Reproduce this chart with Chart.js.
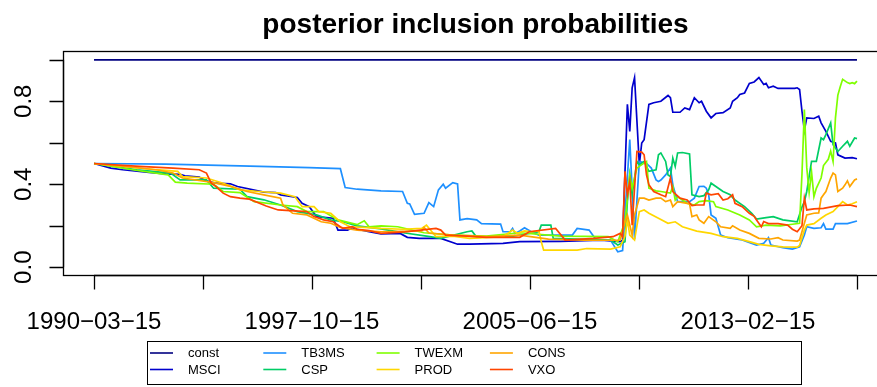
<!DOCTYPE html>
<html>
<head>
<meta charset="utf-8">
<script src="https://cdn.jsdelivr.net/npm/chart.js@4/dist/chart.umd.min.js"></script>
<style>
  html, body { margin: 0; padding: 0; background: #ffffff; overflow: hidden; }
  #wrap { width: 900px; height: 387px; position: relative; }
</style>
</head>
<body>
<div id="wrap"><canvas id="pip" width="900" height="387"></canvas></div>
<script>
// Posterior inclusion probabilities, monthly observations indexed from 1990-03 (month 0) to month 319.
const LAST_MONTH = 319;

// x axis ticks (month index) and their labels
const xTickMonths = [0, 45.57, 91.14, 136.71, 182.29, 227.86, 273.43, 319];
const xTickLabels = ['1990\u221203\u221215', '', '1997\u221210\u221215', '', '2005\u221206\u221215', '', '2013\u221202\u221215', ''];

// y axis ticks and labels
const yTickValues = [0, 0.2, 0.4, 0.6, 0.8, 1.0];
const yTickLabels = ['0.0', '', '0.4', '', '0.8', ''];

const seriesNames = ['const', 'MSCI', 'TB3MS', 'CSP', 'TWEXM', 'PROD', 'CONS', 'VXO'];
const seriesColors = ['#000080', '#0000CD', '#1E90FF', '#00CD66', '#7FFF00', '#FFD700', '#FFA500', '#FF4500'];

// [month, probability]
const constPip = [[0, 1], [319, 1]];

const msciPip = [[0,.5],[7,.478],[12,.47],[23,.457],[30,.45],[36,.448],[38,.441],[44,.434],[47,.416],[51,.405],[57,.402],[60,.389],
  [71,.362],[76,.36],[78,.349],[85,.336],[87,.308],[90,.292],[93,.244],[100,.236],[102,.179],[106,.179],[108,.19],[110,.183],
  [115,.171],[120,.16],[128,.163],[131,.144],[136,.139],[145,.139],[152,.111],[157,.111],[171,.115],[178,.123],[195,.125],
  [212,.131],[220,.123],[221,.13],[223,.785],[224,.655],[225,.865],[226,.914],[228,.494],[229,.599],[230,.615],[232,.785],
  [234,.793],[237,.80],[240,.828],[241,.817],[242,.747],[245,.747],[247,.768],[249,.76],[251,.817],[253,.793],[254,.80],
  [256,.752],[258,.72],[260,.741],[263,.745],[266,.768],[267,.80],[269,.817],[270,.833],[272,.84],[274,.886],[276,.893],
  [278,.914],[280,.881],[281,.886],[282,.865],[284,.873],[286,.862],[293,.862],[294,.865],[295,.857],[296,.752],[297,.66],
  [298,.72],[301,.717],[303,.728],[304,.696],[306,.655],[308,.607],[310,.599],[311,.542],[314,.526],[317,.528],[319,.523]];

const tb3msPip = [[0,.5],[30,.497],[61,.489],[90,.48],[103,.475],[105,.384],[110,.376],[120,.368],[129,.365],[131,.308],
  [132,.305],[134,.255],[138,.26],[140,.311],[142,.292],[144,.373],[146,.40],[147,.381],[150,.408],[152,.402],[153,.228],
  [156,.234],[160,.228],[162,.21],[170,.208],[171,.171],[174,.171],[175,.187],[176,.163],[178,.175],[180,.19],[183,.17],
  [186,.155],[200,.155],[202,.187],[207,.179],[210,.131],[216,.13],[219,.074],[221,.08],[224,.615],[226,.135],[228,.51],
  [231,.50],[233,.478],[235,.421],[236,.413],[237,.42],[239,.445],[241,.478],[242,.397],[244,.316],[249,.316],[251,.333],
  [253,.389],[255,.39],[256,.381],[257,.349],[258,.252],[260,.236],[262,.155],[265,.142],[271,.131],[277,.107],[280,.115],
  [282,.142],[283,.107],[288,.094],[292,.087],[295,.098],[297,.155],[298,.195],[301,.187],[304,.19],[305,.21],[306,.184],
  [309,.184],[310,.21],[315,.21],[319,.223]];

const cspPip = [[0,.5],[18,.47],[32,.454],[36,.421],[47,.421],[50,.381],[61,.376],[64,.34],[71,.325],[78,.30],[85,.268],
  [93,.252],[99,.228],[104,.219],[110,.199],[120,.185],[130,.165],[139,.15],[145,.139],[156,.171],[158,.175],[160,.144],
  [171,.15],[174,.147],[186,.171],[187,.203],[191,.203],[192,.139],[202,.135],[216,.131],[219,.107],[222,.123],[223,.316],
  [224,.445],[225,.349],[227,.51],[228,.494],[230,.51],[232,.462],[235,.47],[236,.542],[237,.551],[239,.51],[240,.445],
  [241,.437],[242,.526],[243,.486],[244,.551],[246,.553],[249,.546],[250,.349],[253,.34],[255,.345],[257,.373],[258,.405],
  [260,.389],[263,.365],[266,.349],[268,.324],[272,.292],[275,.26],[277,.232],[281,.239],[284,.244],[288,.228],[294,.219],
  [296,.29],[297,.316],[298,.365],[300,.51],[302,.51],[304,.623],[305,.615],[306,.639],[308,.696],[309,.591],[311,.558],
  [313,.583],[315,.607],[316,.583],[318,.623],[319,.62]];

const twexmPip = [[0,.5],[16,.47],[31,.445],[34,.41],[39,.405],[50,.40],[54,.365],[61,.36],[67,.316],[78,.30],[85,.292],
  [89,.268],[96,.268],[102,.228],[110,.205],[113,.224],[115,.195],[120,.199],[127,.195],[138,.166],[150,.155],[164,.15],
  [178,.166],[195,.15],[215,.147],[219,.123],[222,.219],[224,.445],[225,.381],[227,.478],[228,.486],[231,.51],[232,.381],
  [235,.368],[237,.365],[241,.357],[242,.389],[243,.324],[244,.34],[248,.308],[251,.30],[253,.316],[256,.321],[259,.316],
  [260,.292],[265,.276],[270,.252],[274,.228],[277,.195],[281,.203],[287,.199],[292,.207],[295,.212],[296,.45],[297,.76],
  [298,.48],[299,.36],[300,.46],[301,.34],[302,.38],[304,.43],[305,.49],[307,.52],[308,.56],[309,.51],[310,.72],[311,.83],
  [312,.87],[313,.906],[315,.89],[316,.885],[317,.89],[318,.885],[319,.897]];

const prodPip = [[0,.5],[26,.47],[35,.462],[37,.437],[47,.43],[54,.405],[61,.373],[69,.365],[78,.357],[84,.34],[87,.292],
  [92,.292],[94,.268],[99,.26],[103,.219],[107,.195],[113,.192],[120,.187],[129,.183],[137,.187],[139,.203],[143,.147],
  [150,.15],[157,.139],[171,.147],[175,.179],[177,.163],[180,.175],[183,.17],[186,.175],[187,.123],[188,.082],[202,.082],
  [206,.09],[216,.087],[220,.098],[222,.15],[223,.228],[224,.155],[226,.131],[228,.268],[230,.276],[232,.26],[236,.236],
  [240,.212],[243,.219],[246,.195],[252,.174],[258,.163],[263,.147],[269,.139],[274,.123],[278,.11],[283,.103],[288,.098],
  [294,.097],[295,.105],[297,.179],[298,.203],[301,.21],[304,.236],[306,.252],[309,.268],[311,.292],[313,.316],[315,.30],
  [317,.306],[319,.316]];

const consPip = [[0,.5],[26,.47],[33,.454],[37,.43],[50,.408],[57,.39],[64,.365],[71,.349],[78,.333],[79,.30],[83,.26],
  [89,.252],[95,.219],[99,.212],[103,.192],[110,.179],[120,.171],[137,.175],[138,.192],[140,.165],[150,.155],[165,.147],
  [178,.155],[190,.135],[205,.13],[220,.131],[222,.219],[223,.252],[225,.155],[226,.252],[228,.333],[230,.333],[232,.324],
  [235,.333],[237,.333],[239,.316],[241,.324],[242,.292],[244,.316],[248,.308],[249,.305],[250,.244],[252,.252],[253,.228],
  [255,.212],[257,.244],[260,.219],[262,.195],[266,.187],[267,.2],[270,.179],[274,.163],[278,.139],[283,.136],[286,.142],
  [288,.131],[294,.126],[295,.131],[297,.212],[298,.252],[301,.26],[303,.262],[304,.333],[305,.349],[306,.365],[308,.43],
  [309,.454],[310,.445],[311,.365],[313,.381],[314,.397],[315,.416],[316,.389],[318,.421],[319,.426]];

const vxoPip = [[0,.5],[19,.486],[33,.478],[44,.47],[47,.454],[49,.405],[51,.389],[54,.357],[57,.34],[61,.333],[65,.328],
  [72,.295],[77,.276],[82,.273],[89,.268],[92,.244],[96,.228],[100,.219],[104,.187],[108,.195],[110,.183],[115,.176],
  [120,.163],[130,.17],[143,.187],[145,.179],[147,.155],[156,.15],[164,.144],[178,.144],[182,.171],[193,.187],[197,.131],
  [209,.139],[217,.147],[220,.163],[221,.147],[222,.462],[223,.349],[224,.413],[225,.203],[226,.381],[227,.558],[229,.555],
  [230,.542],[231,.445],[232,.397],[234,.365],[237,.349],[239,.34],[241,.43],[242,.365],[245,.333],[248,.324],[250,.297],
  [252,.30],[255,.30],[256,.357],[258,.349],[261,.354],[263,.324],[265,.33],[267,.349],[268,.308],[271,.292],[274,.26],
  [276,.245],[277,.228],[279,.195],[280,.22],[282,.21],[286,.21],[290,.203],[292,.183],[294,.171],[295,.185],[296,.20],
  [297,.333],[298,.276],[301,.281],[305,.284],[311,.297],[316,.30],[319,.292]];

const seriesData = [constPip, msciPip, tb3msPip, cspPip, twexmPip, prodPip, consPip, vxoPip];

const FONT = '"Liberation Sans", Arial, Helvetica, sans-serif';

// Plot frame, axes, title and legend drawn in the base-graphics style
const framePlugin = {
  id: 'frame',
  afterDraw(chart) {
    const ctx = chart.ctx;
    const a = chart.chartArea;
    const xs = chart.scales.x, ys = chart.scales.y;
    ctx.save();
    ctx.strokeStyle = '#000';
    ctx.fillStyle = '#000';
    ctx.lineWidth = 1.3;

    // box
    ctx.strokeRect(a.left, a.top, a.right - a.left, a.bottom - a.top);

    // x axis
    const tick = 14;
    const x0 = xs.getPixelForValue(xTickMonths[0]);
    const x1 = xs.getPixelForValue(xTickMonths[xTickMonths.length - 1]);
    ctx.beginPath();
    ctx.moveTo(x0, a.bottom); ctx.lineTo(x1, a.bottom);
    xTickMonths.forEach(m => {
      const px = Math.round(xs.getPixelForValue(m)) + 0.5;
      ctx.moveTo(px, a.bottom); ctx.lineTo(px, a.bottom + tick);
    });
    ctx.stroke();
    ctx.font = '24px ' + FONT;
    ctx.textAlign = 'center';
    ctx.textBaseline = 'alphabetic';
    xTickMonths.forEach((m, i) => {
      if (xTickLabels[i]) ctx.fillText(xTickLabels[i], xs.getPixelForValue(m), 329);
    });

    // y axis
    const y0 = ys.getPixelForValue(yTickValues[0]);
    const y1 = ys.getPixelForValue(yTickValues[yTickValues.length - 1]);
    ctx.beginPath();
    ctx.moveTo(a.left, y0); ctx.lineTo(a.left, y1);
    yTickValues.forEach(v => {
      const py = Math.round(ys.getPixelForValue(v)) + 0.5;
      ctx.moveTo(a.left, py); ctx.lineTo(a.left - tick, py);
    });
    ctx.stroke();
    yTickValues.forEach((v, i) => {
      if (!yTickLabels[i]) return;
      ctx.save();
      ctx.translate(31, ys.getPixelForValue(v));
      ctx.rotate(-Math.PI / 2);
      ctx.fillText(yTickLabels[i], 0, 0);
      ctx.restore();
    });

    // title
    ctx.font = 'bold 28px ' + FONT;
    ctx.fillText('posterior inclusion probabilities', (a.left + a.right) / 2, 33);

    // legend
    const lg = { left: 147.5, right: 801.5, top: 341.5, bottom: 384.5 };
    ctx.lineWidth = 1;
    ctx.strokeStyle = '#000';
    ctx.strokeRect(lg.left, lg.top, lg.right - lg.left, lg.bottom - lg.top);
    ctx.font = '13px ' + FONT;
    ctx.textAlign = 'left';
    ctx.textBaseline = 'middle';
    const colX = [150, 263.3, 376.6, 489.9];
    const rowY = [353, 369.5];
    seriesNames.forEach((name, i) => {
      const cx = colX[Math.floor(i / 2)], cy = rowY[i % 2];
      ctx.strokeStyle = seriesColors[i];
      ctx.lineWidth = 1.6;
      ctx.beginPath();
      ctx.moveTo(cx, cy); ctx.lineTo(cx + 23, cy);
      ctx.stroke();
      ctx.fillStyle = '#000';
      ctx.fillText(name, cx + 38, cy + 0.5);
    });
    ctx.restore();
  }
};

new Chart(document.getElementById('pip'), {
  type: 'line',
  data: {
    datasets: seriesNames.map((name, i) => ({
      label: name,
      data: seriesData[i].map(p => ({ x: p[0], y: p[1] })),
      borderColor: seriesColors[i],
      backgroundColor: seriesColors[i],
      borderWidth: 1.7,
      pointRadius: 0,
      tension: 0,
      fill: false,
      order: seriesNames.length - i
    }))
  },
  options: {
    responsive: false,
    animation: false,
    events: [],
    layout: { padding: { left: 63.5, right: 12.5, top: 51.5, bottom: 111.5 } },
    scales: {
      x: { type: 'linear', min: -0.04 * LAST_MONTH, max: 1.04 * LAST_MONTH, display: false },
      y: { type: 'linear', min: -0.04, max: 1.04, display: false }
    },
    plugins: { legend: { display: false }, title: { display: false }, tooltip: { enabled: false } }
  },
  plugins: [framePlugin]
});
</script>
</body>
</html>
